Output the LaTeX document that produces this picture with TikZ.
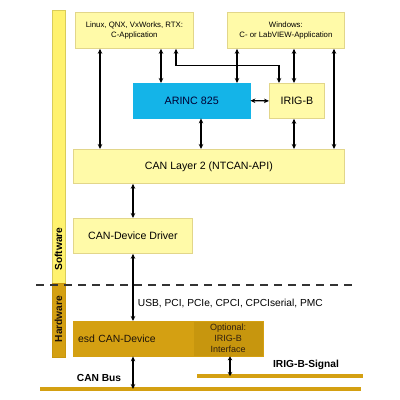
\documentclass[tikz,border=0pt]{standalone}
\usepackage{fontspec}
\setmainfont{Liberation Sans}
\usetikzlibrary{arrows.meta,calc}
\definecolor{yfill}{HTML}{FFFAA8}
\definecolor{ydraw}{HTML}{E2D68A}
\definecolor{arincc}{HTML}{14B4E8}
\definecolor{goldc}{HTML}{D4A012}
\definecolor{goldd}{HTML}{C7960E}
\definecolor{swbar}{HTML}{FFF26E}
\definecolor{swbard}{HTML}{D9CC5A}
\tikzset{
  ybox/.style={draw=ydraw, fill=yfill, line width=0.8pt, inner sep=0pt, align=center, anchor=north west},
  arr/.style={line width=1.3pt, {Stealth[length=5pt,width=4.5pt]}-{Stealth[length=5pt,width=4.5pt]}},
  busline/.style={line width=4pt, draw=goldc},
  lbl/.style={font=\bfseries\fontsize{10.2}{12}\selectfont},
}
\begin{document}
\begin{tikzpicture}[x=1pt,y=-1pt]
\useasboundingbox (0,0) rectangle (400,400);
% side bars
\node[draw=swbard, fill=swbar, line width=0.8pt, minimum width=13pt, minimum height=273pt, anchor=north west, inner sep=0pt] (sw) at (52,10) {};
\node[draw=goldd, fill=goldc, line width=0.8pt, minimum width=13pt, minimum height=74pt, anchor=north west, inner sep=0pt] (hw) at (52,283) {};
\node[rotate=90, lbl] (swt) at (58.5,249) {Software};
\node[rotate=90, lbl, text=black!85!brown] (hwt) at (58.5,319) {Hardware};
% boxes
\node[ybox, minimum width=118pt, minimum height=36pt, font=\fontsize{7.8}{9.5}\selectfont] (lin) at (75,12) {Linux, QNX, VxWorks, RTX:\\C-Application};
\node[ybox, minimum width=117pt, minimum height=36pt, font=\fontsize{7.8}{9.5}\selectfont] (win) at (227,12) {Windows:\\C- or LabVIEW-Application};
\node[draw=arincc, fill=arincc, inner sep=0pt, anchor=north west, minimum width=117pt, minimum height=35pt, font=\fontsize{10.7}{12}\selectfont, text=black!80!blue] (arinc) at (133,83) {ARINC 825};
\node[ybox, minimum width=55pt, minimum height=35pt, font=\fontsize{10.7}{12}\selectfont] (irig) at (269,83) {IRIG-B};
\node[ybox, minimum width=271pt, minimum height=34pt, font=\fontsize{10.6}{12}\selectfont] (can) at (73,149) {CAN Layer 2 (NTCAN-API)};
\node[ybox, minimum width=119pt, minimum height=35pt, font=\fontsize{10.6}{12}\selectfont] (drv) at (73,218) {CAN-Device Driver};
\node[draw=goldc, fill=goldc, inner sep=0pt, anchor=north west, minimum width=120pt, minimum height=35pt, font=\fontsize{10.4}{12}\selectfont, text=black!85!brown, text width=110pt, align=left] (esd) at (73,321) {esd CAN-Device};
\node[draw=goldc, fill=goldd, inner sep=0pt, anchor=north west, minimum width=70pt, minimum height=35pt, font=\fontsize{9}{11}\selectfont, text=black!75!brown, align=center] (opt) at (193,321) {Optional:\\IRIG-B\\Interface};
% dashed separator
\coordinate (dl) at (36,285);
\coordinate (dr) at (353,285);
\draw[line width=1.6pt, draw=black!80, dash pattern=on 8pt off 6pt] (dl) -- (dr);
% bus lines
\coordinate (cbl) at (40,389);
\coordinate (cbr) at (361,389);
\coordinate (ibl) at (197,376);
\coordinate (ibr) at (363,376);
\draw[busline] (cbl) -- (cbr);
\draw[busline] (ibl) -- (ibr);
\node[lbl] (cbt) at (99,378) {CAN Bus};
\node[lbl] (ibt) at (306,365) {IRIG-B-Signal};
% arrows
\draw[arr] ([xshift=25pt]lin.south west) -- ([xshift=25pt]lin.south west |- can.north);
\draw[arr] ([xshift=86pt]lin.south west) -- ([xshift=86pt]lin.south west |- arinc.north);
\draw[arr] ([xshift=101pt]lin.south west) -- ++(0,17) -| ([xshift=10pt]irig.north west);
\draw[arr] ([xshift=10pt]win.south west) -- ([xshift=10pt]win.south west |- arinc.north);
\draw[arr] ([xshift=67pt]win.south west) -- ([xshift=67pt]win.south west |- irig.north);
\draw[arr] ([xshift=107pt]win.south west) -- ([xshift=107pt]win.south west |- can.north);
\draw[arr] (arinc.east) -- (irig.west);
\draw[arr] ([xshift=68pt]arinc.south west) -- ([xshift=68pt]arinc.south west |- can.north);
\draw[arr] ([xshift=25pt]irig.south west) -- ([xshift=25pt]irig.south west |- can.north);
\draw[arr] ([xshift=60pt]can.south west) -- ([xshift=60pt]can.south west |- drv.north);
\draw[arr] ([xshift=60pt]drv.south west) -- ([xshift=60pt]drv.south west |- esd.north)
  node[pos=0.735, anchor=west, xshift=1pt, font=\fontsize{10.2}{12}\selectfont] (bus) {USB, PCI, PCIe, CPCI, CPCIserial, PMC};
\draw[arr] ([xshift=60pt]esd.south west) -- ([xshift=60pt]esd.south west |- cbl);
\draw[line width=1.3pt, {Stealth[length=4pt,width=4.5pt]}-{Stealth[length=4pt,width=4.5pt]}] ([xshift=37pt]opt.south west) -- ([xshift=37pt]opt.south west |- ibl);
\end{tikzpicture}
\end{document}
